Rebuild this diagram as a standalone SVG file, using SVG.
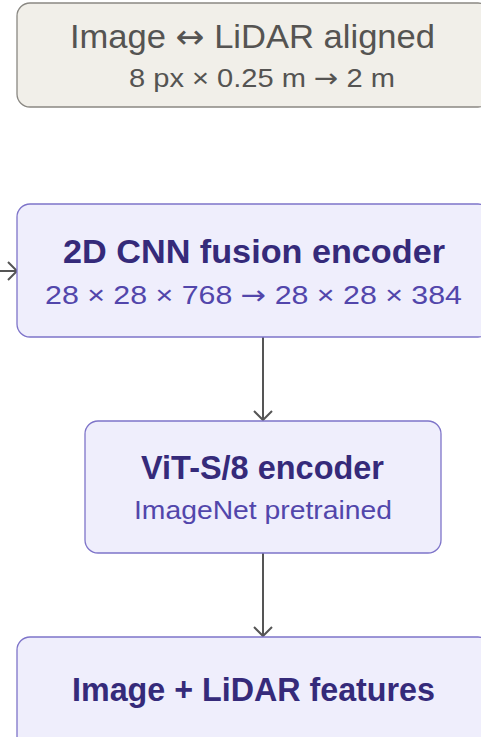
<svg xmlns="http://www.w3.org/2000/svg" width="481" height="737" viewBox="0 0 481 737">
<style>
.ctx{fill:#f1efe9;stroke:#8a8883;stroke-width:1.3}
.blk{fill:#efeefc;stroke:#7e74c9;stroke-width:1.3}
text{font-family:"Liberation Sans",Arial,sans-serif;text-anchor:middle}
.ar{font-family:"DejaVu Sans",sans-serif}
.t1{font-size:33px;fill:#555452}
.s1{font-size:26px;fill:#555452}
.t2{font-size:33px;fill:#352a7a;font-weight:bold}
.s2{font-size:26px;fill:#5246ab}
.edge{stroke:#555;stroke-width:2;fill:none}
</style>
<defs>
<marker id="ah" viewBox="0 0 20 20" refX="18" refY="10" markerWidth="20" markerHeight="20" markerUnits="userSpaceOnUse" orient="auto">
<path d="M9,1 L18,10 L9,19" fill="none" stroke="#555" stroke-width="2"/>
</marker>
</defs>
<g id="connectors">
<line class="edge" x1="0" y1="271" x2="17" y2="271" marker-end="url(#ah)"/>
<line class="edge" x1="263" y1="337" x2="263" y2="420" marker-end="url(#ah)"/>
<line class="edge" x1="263" y1="553" x2="263" y2="636" marker-end="url(#ah)"/>
</g>
<g id="aligned">
<rect class="ctx" x="17" y="3" width="474" height="104" rx="13"/>
<text class="t1" x="252.5" y="48" textLength="365" lengthAdjust="spacingAndGlyphs">Image <tspan class="ar">↔</tspan> LiDAR aligned</text>
<text class="s1" x="262" y="87" textLength="266" lengthAdjust="spacingAndGlyphs">8 px × 0.25 m <tspan class="ar">→</tspan> 2 m</text>
</g>
<g id="fusion">
<rect class="blk" x="17" y="204" width="474" height="133" rx="13"/>
<text class="t2" x="254" y="263" textLength="382" lengthAdjust="spacingAndGlyphs">2D CNN fusion encoder</text>
<text class="s2" x="253.5" y="304" textLength="417" lengthAdjust="spacingAndGlyphs">28 × 28 × 768 <tspan class="ar">→</tspan> 28 × 28 × 384</text>
</g>
<g id="vit">
<rect class="blk" x="85" y="421" width="356" height="132" rx="13"/>
<text class="t2" x="262.5" y="479" textLength="243" lengthAdjust="spacingAndGlyphs">ViT-S/8 encoder</text>
<text class="s2" x="263" y="519" textLength="258" lengthAdjust="spacingAndGlyphs">ImageNet pretrained</text>
</g>
<g id="features">
<rect class="blk" x="17" y="637" width="474" height="120" rx="13"/>
<text class="t2" x="253.5" y="701" textLength="363" lengthAdjust="spacingAndGlyphs">Image + LiDAR features</text>
</g>
</svg>
